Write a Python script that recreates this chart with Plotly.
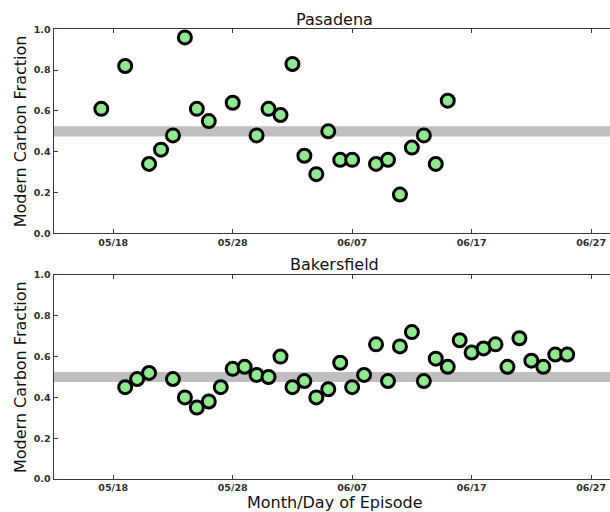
import plotly.graph_objects as go

# Modern carbon fraction by episode day, CalNex 2010
pasadena_dates = [
    "2010-05-17", "2010-05-19", "2010-05-21", "2010-05-22", "2010-05-23",
    "2010-05-24", "2010-05-25", "2010-05-26", "2010-05-28", "2010-05-30",
    "2010-05-31", "2010-06-01", "2010-06-02", "2010-06-03", "2010-06-04",
    "2010-06-05", "2010-06-06", "2010-06-07", "2010-06-09", "2010-06-10",
    "2010-06-11", "2010-06-12", "2010-06-13", "2010-06-14", "2010-06-15",
]
pasadena_mcf = [
    0.61, 0.82, 0.34, 0.41, 0.48,
    0.96, 0.61, 0.55, 0.64, 0.48,
    0.61, 0.58, 0.83, 0.38, 0.29,
    0.50, 0.36, 0.36, 0.34, 0.36,
    0.19, 0.42, 0.48, 0.34, 0.65,
]

bakersfield_dates = [
    "2010-05-19", "2010-05-20", "2010-05-21", "2010-05-23", "2010-05-24",
    "2010-05-25", "2010-05-26", "2010-05-27", "2010-05-28", "2010-05-29",
    "2010-05-30", "2010-05-31", "2010-06-01", "2010-06-02", "2010-06-03",
    "2010-06-04", "2010-06-05", "2010-06-06", "2010-06-07", "2010-06-08",
    "2010-06-09", "2010-06-10", "2010-06-11", "2010-06-12", "2010-06-13",
    "2010-06-14", "2010-06-15", "2010-06-16", "2010-06-17", "2010-06-18",
    "2010-06-19", "2010-06-20", "2010-06-21", "2010-06-22", "2010-06-23",
    "2010-06-24", "2010-06-25",
]
bakersfield_mcf = [
    0.45, 0.49, 0.52, 0.49, 0.40,
    0.35, 0.38, 0.45, 0.54, 0.55,
    0.51, 0.50, 0.60, 0.45, 0.48,
    0.40, 0.44, 0.57, 0.45, 0.51,
    0.66, 0.48, 0.65, 0.72, 0.48,
    0.59, 0.55, 0.68, 0.62, 0.64,
    0.66, 0.55, 0.69, 0.58, 0.55,
    0.61, 0.61,
]

tick_dates = ["2010-05-18", "2010-05-28", "2010-06-07", "2010-06-17", "2010-06-27"]
tick_text = ["05/18", "05/28", "06/07", "06/17", "06/27"]
y_ticks = [0.0, 0.2, 0.4, 0.6, 0.8, 1.0]
reference_band = (0.475, 0.525)
x_range = ["2010-05-13", "2010-06-28 14:00"]
title_x = "2010-06-05 13:00"

FONT = "DejaVu Sans"
AXIS_COLOR = "#3a3a3a"
W, H = 610, 512

marker = dict(size=13, color="#8fe98f", line=dict(color="black", width=3))

fig = go.Figure()
fig.add_trace(go.Scatter(x=pasadena_dates, y=pasadena_mcf, mode="markers",
                         marker=marker, xaxis="x", yaxis="y",
                         cliponaxis=False, showlegend=False))
fig.add_trace(go.Scatter(x=bakersfield_dates, y=bakersfield_mcf, mode="markers",
                         marker=marker, xaxis="x2", yaxis="y2",
                         cliponaxis=False, showlegend=False))

x_left = 53.5 / W
top_dom = [(H - 233.3) / H, (H - 29.3) / H]
bot_dom = [(H - 479.0) / H, (H - 275.0) / H]

tick_font = dict(family=FONT, size=9.5, color="#2e2e2e", weight="bold")


def xaxis_cfg(anchor):
    return dict(
        type="date", range=x_range, domain=[x_left, 1], anchor=anchor,
        tickvals=tick_dates, ticktext=tick_text, ticks="inside", ticklen=4,
        tickcolor=AXIS_COLOR, tickwidth=1, showline=True, linecolor=AXIS_COLOR,
        linewidth=1, mirror="ticks", showgrid=False, zeroline=False,
        tickfont=tick_font, automargin=False,
    )


def yaxis_cfg(anchor, dom):
    return dict(
        range=[0, 1], domain=dom, anchor=anchor, tickvals=y_ticks,
        ticktext=[f"{v:.1f}" for v in y_ticks], ticks="inside", ticklen=4,
        tickcolor=AXIS_COLOR, tickwidth=1, showline=True, linecolor=AXIS_COLOR,
        linewidth=1, showgrid=False, zeroline=False, tickfont=tick_font,
        automargin=False,
    )


shapes = []
for xr, yr in (("x", "y"), ("x2", "y2")):
    shapes.append(dict(type="rect", xref=f"{xr} domain", yref=yr, x0=0, x1=1,
                       y0=reference_band[0], y1=reference_band[1],
                       fillcolor="#bfbfbf", line=dict(width=0), layer="below"))

label_font = dict(family=FONT, size=16, color="#111111")
annotations = [
    dict(text="Pasadena", xref="x", yref="paper", x=title_x,
         y=(H - 19) / H, xanchor="center", yanchor="middle",
         showarrow=False, font=label_font),
    dict(text="Bakersfield", xref="x2", yref="paper", x=title_x,
         y=(H - 264) / H, xanchor="center", yanchor="middle",
         showarrow=False, font=label_font),
    dict(text="Month/Day of Episode", xref="x2", yref="paper", x=title_x,
         y=(H - 502) / H, xanchor="center", yanchor="middle",
         showarrow=False, font=label_font),
    dict(text="Modern Carbon Fraction", xref="paper", yref="paper",
         x=20 / W, y=(H - 131.3) / H, xanchor="center", yanchor="middle",
         textangle=-90, showarrow=False, font=label_font),
    dict(text="Modern Carbon Fraction", xref="paper", yref="paper",
         x=20 / W, y=(H - 377) / H, xanchor="center", yanchor="middle",
         textangle=-90, showarrow=False, font=label_font),
]

fig.update_layout(
    width=W, height=H, margin=dict(l=0, r=0, t=0, b=0),
    paper_bgcolor="white", plot_bgcolor="white", template="none",
    font=dict(family=FONT),
    xaxis=xaxis_cfg("y"), yaxis=yaxis_cfg("x", top_dom),
    xaxis2=xaxis_cfg("y2"), yaxis2=yaxis_cfg("x2", bot_dom),
    shapes=shapes, annotations=annotations,
)

fig.write_html("out.html")
